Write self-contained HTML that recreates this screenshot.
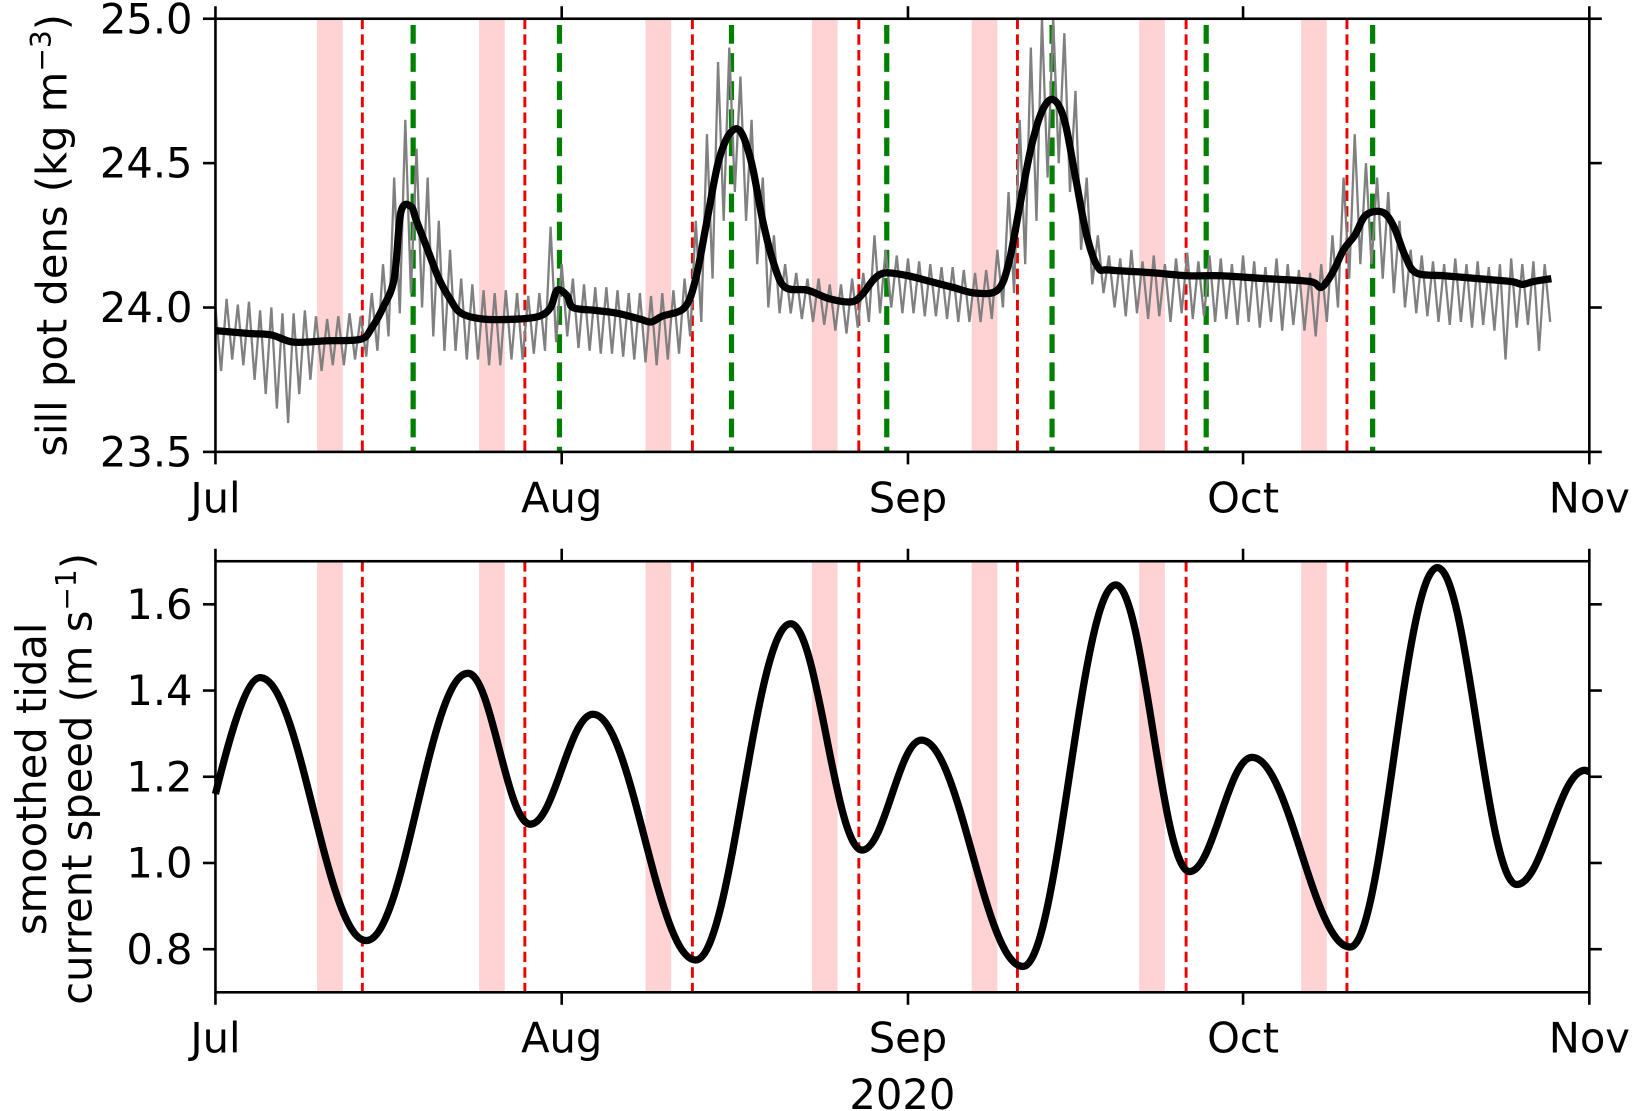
<!DOCTYPE html>
<html><head><meta charset="utf-8"><style>
html,body{margin:0;padding:0;background:#fff;}
svg{display:block;font-family:"DejaVu Sans","Liberation Sans",sans-serif;}
</style></head><body>
<svg id="chart" width="1632" height="1111" viewBox="0 0 1568 1067" preserveAspectRatio="none" xmlns="http://www.w3.org/2000/svg">
<g id="topPanel"></g>
<g id="botPanel"></g>
</svg>
<script>
// shared time markers (days since Jul 1)
const bandStarts = [9.1, 23.6, 38.5, 53.4, 67.7, 82.7, 97.2];
const bandEnds = [11.4, 25.9, 40.8, 55.7, 70.0, 85.0, 99.5];
const redDays = [13.15, 27.7, 42.7, 57.6, 71.8, 86.9, 101.3];
const greenDays = [17.7, 30.8, 46.2, 60.1, 74.9, 88.7, 103.6];
const monthDays = [0, 31, 62, 92, 123];
const monthLabels = ["Jul", "Aug", "Sep", "Oct", "Nov"];
// top panel: smoothed density
const densDays = [0,3,5,7,10,13,14,15,16,16.6,17.5,18,19,20,21,22,24,27,29,30,30.6,31.5,32,34,36,38,39,40,42,43,44,45,46,47,48,49,50,51,53,55,57,58,59,60,62,64,66,68,70,71,72,73,74,75,76,77,78,79,80,84,87,90,94,98,99,100,101,102,103,104.5,105.5,106.5,107.5,110,113,116,117,118,119.6];
const densVals = [23.92,23.91,23.905,23.88,23.885,23.89,23.93,24.0,24.1,24.33,24.35,24.3,24.2,24.1,24.03,23.98,23.96,23.96,23.97,24.0,24.06,24.04,24.0,23.99,23.98,23.96,23.95,23.97,24.0,24.1,24.3,24.5,24.6,24.61,24.5,24.3,24.15,24.07,24.06,24.03,24.02,24.05,24.1,24.12,24.11,24.09,24.07,24.05,24.06,24.15,24.35,24.55,24.68,24.72,24.65,24.45,24.25,24.14,24.13,24.12,24.11,24.11,24.1,24.09,24.07,24.12,24.2,24.25,24.32,24.33,24.28,24.18,24.12,24.11,24.1,24.09,24.08,24.09,24.1];
// raw density envelope per day (high then low within each day)
const rawHi = [24.0,24.03,24.01,24.02,23.99,24.0,23.98,23.98,23.99,23.97,23.96,23.97,23.98,23.97,24.05,24.15,24.45,24.65,24.55,24.45,24.3,24.2,24.1,24.08,24.06,24.05,24.06,24.05,24.04,24.05,24.28,24.15,24.1,24.08,24.07,24.07,24.06,24.05,24.05,24.04,24.05,24.06,24.1,24.3,24.6,24.85,24.9,24.8,24.65,24.45,24.25,24.15,24.12,24.1,24.1,24.08,24.08,24.1,24.12,24.25,24.2,24.18,24.17,24.16,24.15,24.14,24.14,24.13,24.12,24.13,24.2,24.4,24.65,24.9,25.0,25.0,24.95,24.75,24.45,24.25,24.18,24.17,24.2,24.16,24.18,24.15,24.17,24.19,24.16,24.18,24.17,24.15,24.18,24.16,24.14,24.17,24.15,24.13,24.12,24.15,24.25,24.45,24.6,24.5,24.45,24.4,24.3,24.2,24.18,24.16,24.15,24.17,24.15,24.16,24.14,24.15,24.17,24.15,24.16,24.15];
const rawLo = [23.78,23.82,23.8,23.75,23.7,23.65,23.6,23.7,23.75,23.78,23.8,23.8,23.82,23.83,23.85,23.9,23.98,24.05,24.0,23.9,23.85,23.85,23.82,23.82,23.8,23.8,23.82,23.82,23.84,23.85,23.88,23.9,23.86,23.85,23.84,23.84,23.83,23.82,23.81,23.8,23.82,23.84,23.9,23.95,24.1,24.3,24.4,24.3,24.15,24.0,23.98,23.98,23.96,23.95,23.94,23.92,23.91,23.93,23.95,23.98,24.0,23.98,23.98,23.97,23.97,23.96,23.95,23.95,23.95,23.96,24.0,24.05,24.15,24.3,24.45,24.5,24.4,24.2,24.08,24.05,24.0,23.97,23.98,23.96,23.97,23.95,23.98,23.96,23.97,23.95,23.96,23.94,23.95,23.93,23.95,23.92,23.94,23.92,23.9,23.95,24.0,24.1,24.15,24.15,24.1,24.05,24.0,23.98,23.97,23.95,23.94,23.95,23.93,23.94,23.92,23.82,23.93,23.94,23.85,23.95];
const topTicks = [23.5, 24.0, 24.5, 25.0];
const topTickLabels = ["23.5", "24.0", "24.5", "25.0"];
// bottom panel: tidal speed key points (extrema)
const tideDays = [0,4,13.5,22.6,28.2,33.8,43,51.5,57.9,63.2,72.3,80.6,87.2,92.8,101.6,109.4,116.5,122.6,123];
const tideVals = [1.16,1.43,0.82,1.44,1.09,1.345,0.775,1.555,1.03,1.285,0.76,1.645,0.98,1.245,0.805,1.685,0.95,1.215,1.212];
const botTicks = [0.8, 1.0, 1.2, 1.4, 1.6];
const botTickLabels = ["0.8", "1.0", "1.2", "1.4", "1.6"];

const NS = "http://www.w3.org/2000/svg";
const X0 = 207, X1 = 1527;
const xs = d => X0 + (d / 123) * (X1 - X0);
const topY0 = 18, topY1 = 434;
const ty = v => topY1 - (v - 23.5) / 1.5 * (topY1 - topY0);
const botY0 = 539, botY1 = 953;
const by = v => botY1 - (v - 0.7) / 1.0 * (botY1 - botY0);
const FS = 40;

function mk(parent, tag, attrs, text) {
  const e = document.createElementNS(NS, tag);
  for (const k in attrs) e.setAttribute(k, attrs[k]);
  if (text !== undefined) e.textContent = text;
  parent.appendChild(e);
  return e;
}
const topG = document.getElementById('topPanel');
const botG = document.getElementById('botPanel');

function markers(g, y0, y1, withGreen) {
  bandStarts.forEach((s, i) => {
    const r = mk(g, 'rect', {x: xs(s), y: y0, width: xs(bandEnds[i]) - xs(s), height: y1 - y0, fill: '#ffd3d3'});
    
    
  });
  redDays.forEach(d => {
    const l = mk(g, 'line', {x1: xs(d), x2: xs(d), y1: y0, y2: y1, stroke: '#ee0000', 'stroke-width': 2.8, 'stroke-dasharray': '10,5'});
    
    
  });
  if (withGreen) greenDays.forEach(d => {
    const l = mk(g, 'line', {x1: xs(d), x2: xs(d), y1: y0 + 6, y2: y1, stroke: '#008000', 'stroke-width': 5, 'stroke-dasharray': '18,9'});
    
    
  });
}

function axes(g, y0, y1, yf, ticks, labels) {
  mk(g, 'rect', {x: X0, y: y0, width: X1 - X0, height: y1 - y0, fill: 'none', stroke: '#000', 'stroke-width': 2.5});
  ticks.forEach((v, i) => {
    const y = yf(v);
    mk(g, 'line', {x1: X0 - 12, x2: X0, y1: y, y2: y, stroke: '#000', 'stroke-width': 2.5});
    mk(g, 'line', {x1: X1, x2: X1 + 12, y1: y, y2: y, stroke: '#000', 'stroke-width': 2.5});
    const t = mk(g, 'text', {x: X0 - 22, y: y + 14, 'text-anchor': 'end', 'font-size': FS}, labels[i]);
    
    
  });
  monthDays.forEach((d, i) => {
    const x = xs(d);
    mk(g, 'line', {x1: x, x2: x, y1: y1, y2: y1 + 12, stroke: '#000', 'stroke-width': 2.5});
    mk(g, 'line', {x1: x, x2: x, y1: y0 - 12, y2: y0, stroke: '#000', 'stroke-width': 2.5});
    const t = mk(g, 'text', {x: x, y: y1 + 58, 'text-anchor': 'middle', 'font-size': FS}, monthLabels[i]);
    
    
  });
}

// TOP panel
markers(topG, topY0, topY1, true);
let raw = '';
rawHi.forEach((h, i) => {
  raw += (i ? 'L' : 'M') + xs(i).toFixed(1) + ',' + ty(h).toFixed(1);
  raw += 'L' + xs(i + 0.5).toFixed(1) + ',' + ty(rawLo[i]).toFixed(1);
});
const rawPath = mk(topG, 'path', {d: raw, fill: 'none', stroke: '#808080', 'stroke-width': 2.2});


function catmull(px, py) {
  let d = 'M' + px[0] + ',' + py[0];
  for (let i = 0; i < px.length - 1; i++) {
    const p0x = px[Math.max(i - 1, 0)], p0y = py[Math.max(i - 1, 0)];
    const p3x = px[Math.min(i + 2, px.length - 1)], p3y = py[Math.min(i + 2, px.length - 1)];
    const c1x = px[i] + (px[i + 1] - p0x) / 6, c1y = py[i] + (py[i + 1] - p0y) / 6;
    const c2x = px[i + 1] - (p3x - px[i]) / 6, c2y = py[i + 1] - (p3y - py[i]) / 6;
    d += 'C' + c1x + ',' + c1y + ' ' + c2x + ',' + c2y + ' ' + px[i + 1] + ',' + py[i + 1];
  }
  return d;
}
const dp = mk(topG, 'path', {d: catmull(densDays.map(xs), densVals.map(ty)), fill: 'none', stroke: '#000', 'stroke-width': 7, 'stroke-linejoin': 'round'});


axes(topG, topY0, topY1, ty, topTicks, topTickLabels);
const tl = mk(topG, 'text', {x: 0, y: 0, 'text-anchor': 'middle', 'font-size': FS, transform: 'translate(64,226) rotate(-90)'});


tl.innerHTML = 'sill pot dens (kg m<tspan font-size="27" dy="-15">−3</tspan><tspan dy="15">)</tspan>';

// BOTTOM panel
markers(botG, botY0, botY1, false);
let td = '';
tideDays.forEach((d, i) => {
  const x = xs(d), y = by(tideVals[i]);
  if (i === 0) { td = 'M' + x + ',' + y; return; }
  const px = xs(tideDays[i - 1]), py = by(tideVals[i - 1]);
  const k = (x - px) * 0.38;
  const k0 = i === 1 ? (x - px) * 0.15 : k;
  td += 'C' + (px + k0) + ',' + (i === 1 ? py - 25 : py) + ' ' + (x - k) + ',' + y + ' ' + x + ',' + y;
});
const tp = mk(botG, 'path', {d: td, fill: 'none', stroke: '#000', 'stroke-width': 7});


axes(botG, botY0, botY1, by, botTicks, botTickLabels);
const bl1 = mk(botG, 'text', {x: 0, y: 0, 'text-anchor': 'middle', 'font-size': FS, transform: 'translate(44,748) rotate(-90)'}, 'smoothed tidal');


const bl2 = mk(botG, 'text', {x: 0, y: 0, 'text-anchor': 'middle', 'font-size': FS, transform: 'translate(88,748) rotate(-90)'});


bl2.innerHTML = 'current speed (m s<tspan font-size="27" dy="-15">−1</tspan><tspan dy="15">)</tspan>';
const yr = mk(botG, 'text', {x: 867, y: 1065, 'text-anchor': 'middle', 'font-size': FS}, '2020');


</script>
</body></html>
